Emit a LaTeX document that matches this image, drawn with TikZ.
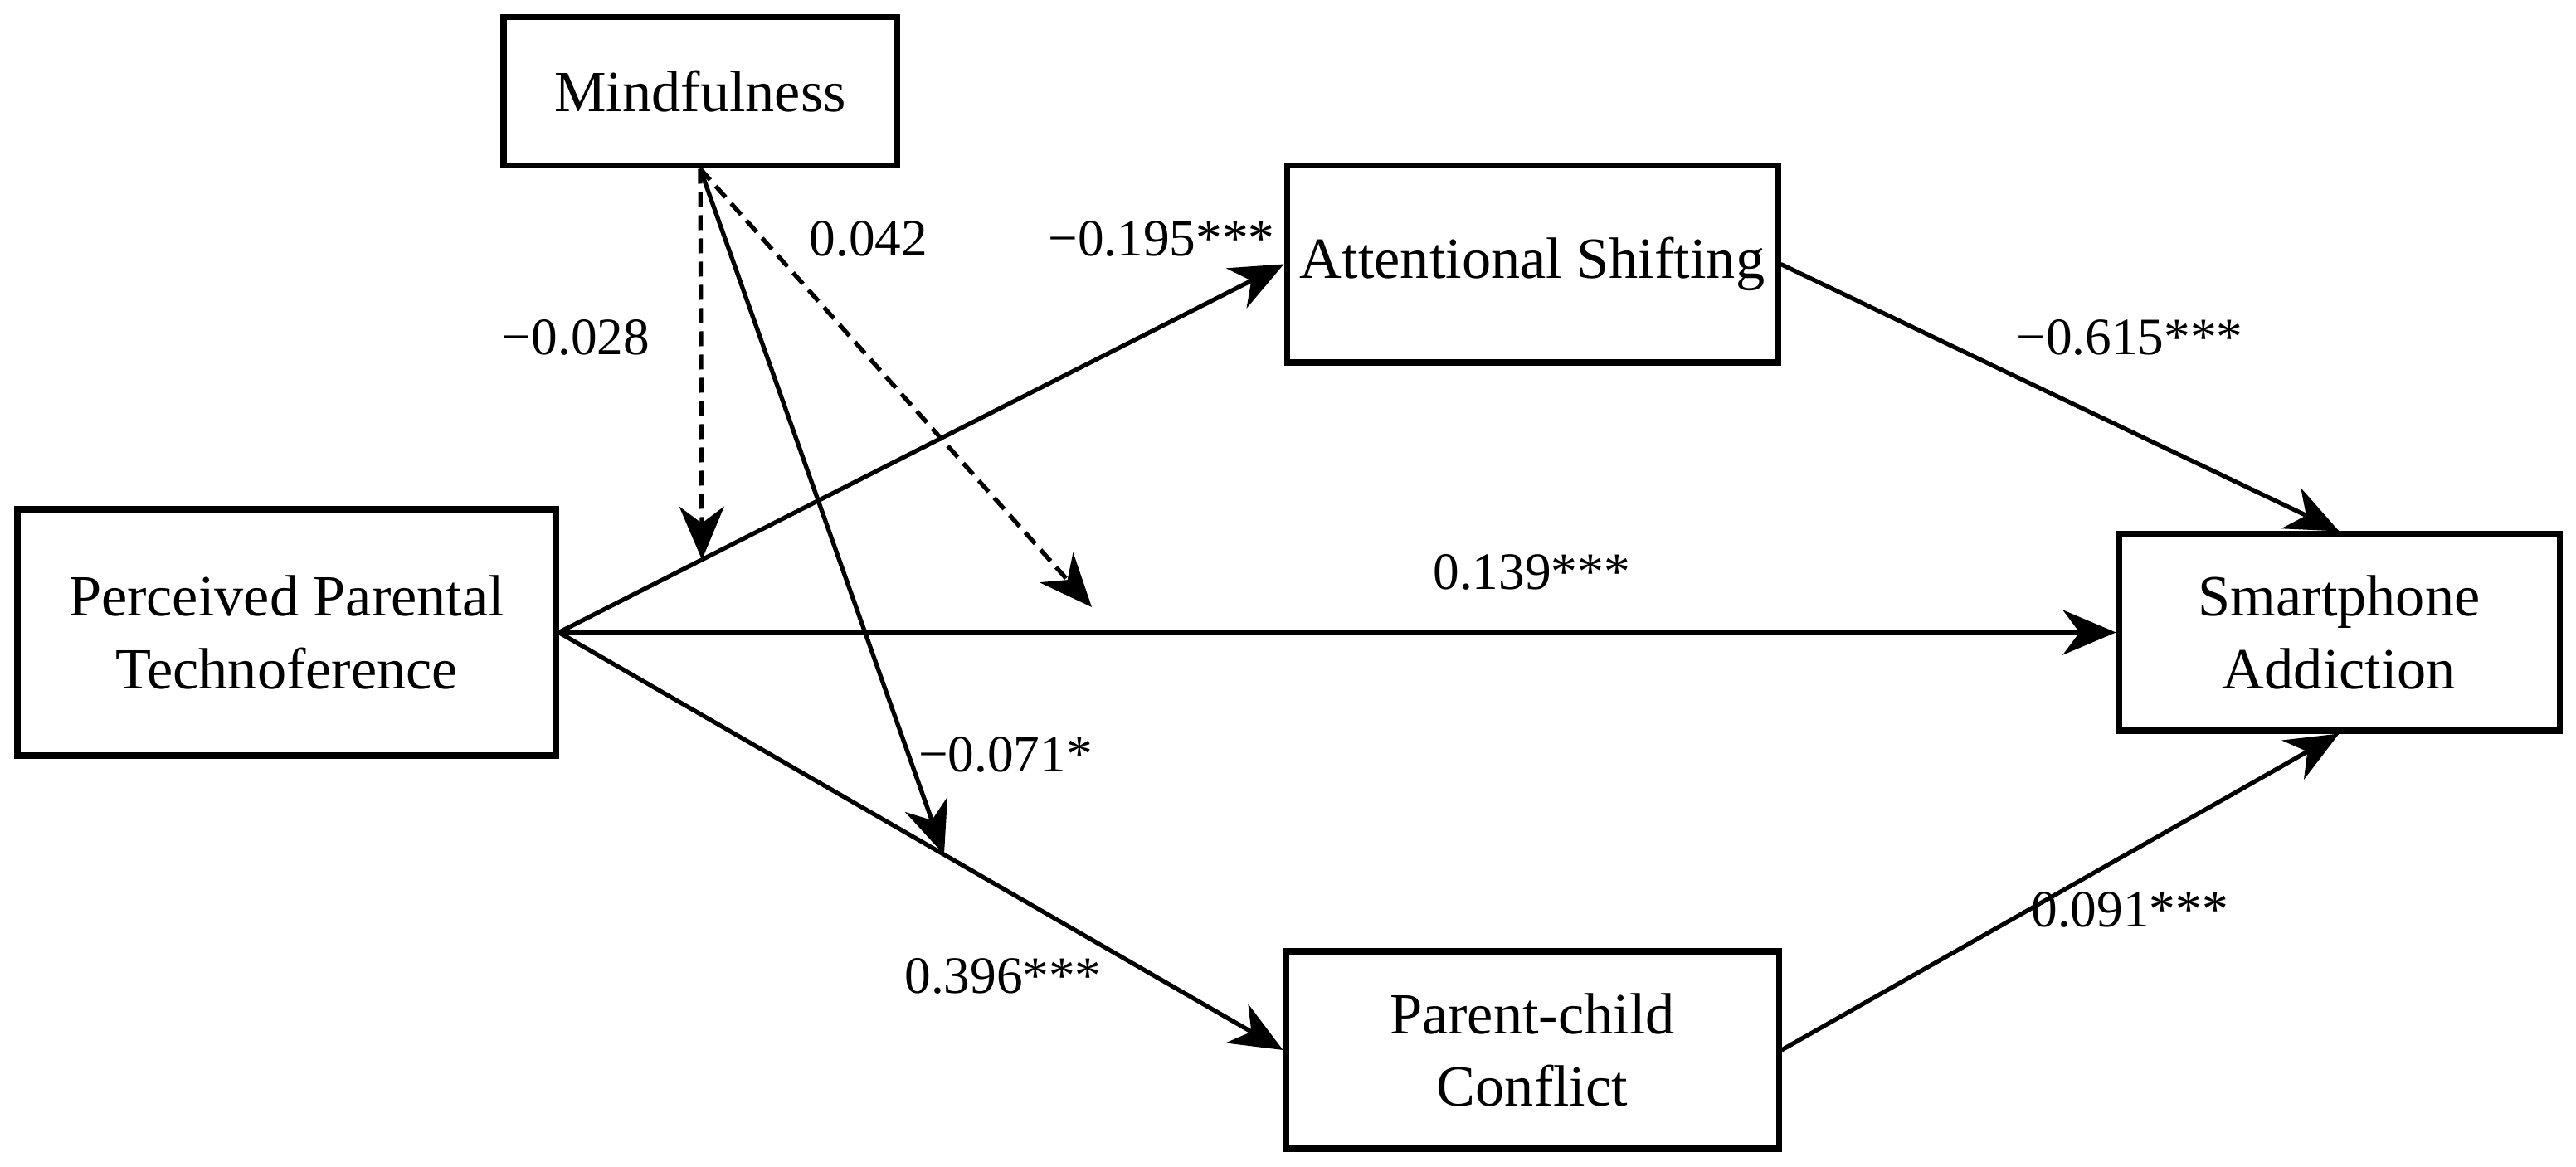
\documentclass[tikz,border=0pt]{standalone}
\usepackage{fontspec}
\setmainfont{Liberation Serif}
\usetikzlibrary{arrows.meta,calc}
\begin{document}
\begin{tikzpicture}[
  box/.style={draw, line width=2pt, align=center, inner sep=0pt,
    font=\fontsize{20}{24.8}\selectfont},
  lab/.style={inner sep=0pt, font=\fontsize{18}{22}\selectfont},
  arr/.style={line width=1.5pt, -{Stealth[length=0.64cm,width=0.54cm,inset=0.2cm]}},
  darr/.style={arr, dash pattern=on 0.18cm off 0.1cm}
]
\useasboundingbox (0,0) rectangle (31.05,-14.07);

% boxes
\node[box, minimum width=4.74cm, minimum height=1.79cm] (mind) at (8.44,-1.105) {Mindfulness};
\node[box, minimum width=5.92cm, minimum height=2.37cm] (as) at (18.47,-3.185) {Attentional Shifting};
\node[box, minimum width=6.49cm, minimum height=2.97cm] (ppt) at (3.455,-7.625) {Perceived Parental\\Technoference};
\node[box, minimum width=5.31cm, minimum height=2.37cm] (sa) at (28.195,-7.625) {Smartphone\\Addiction};
\node[box, minimum width=5.94cm, minimum height=2.38cm] (pcc) at (18.47,-12.66) {Parent-child\\Conflict};

% main paths
\draw[arr] (ppt.east) -- (as.west);
\draw[arr] (ppt.east) -- (sa.west);
\draw[arr] (ppt.east) -- (pcc.west);
\draw[arr] (as.east) -- (sa.north);
\draw[arr] (pcc.east) -- (sa.south);

% moderation
\coordinate (m1) at ($(ppt.east)!0.1975!(as.west)$);
\coordinate (m2) at ($(ppt.east)!0.532!(pcc.west)$);
\coordinate (m3) at (13.16,-7.32);
\draw[darr] (mind.south) -- (m1);
\draw[arr] (mind.south) -- (m2);
\draw[darr] (mind.south) -- (m3);

% labels
\node[lab] (l028) at (6.94,-4.07) {−0.028};
\node[lab] (l042) at (10.47,-2.88) {0.042};
\node[lab] (l195) at (14.00,-2.88) {−0.195***};
\node[lab] (l615) at (25.67,-4.07) {−0.615***};
\node[lab] (l139) at (18.46,-6.90) {0.139***};
\node[lab] (l071) at (12.12,-9.10) {−0.071*};
\node[lab] (l396) at (12.09,-11.77) {0.396***};
\node[lab] (l091) at (25.67,-10.97) {0.091***};
\end{tikzpicture}
\end{document}
